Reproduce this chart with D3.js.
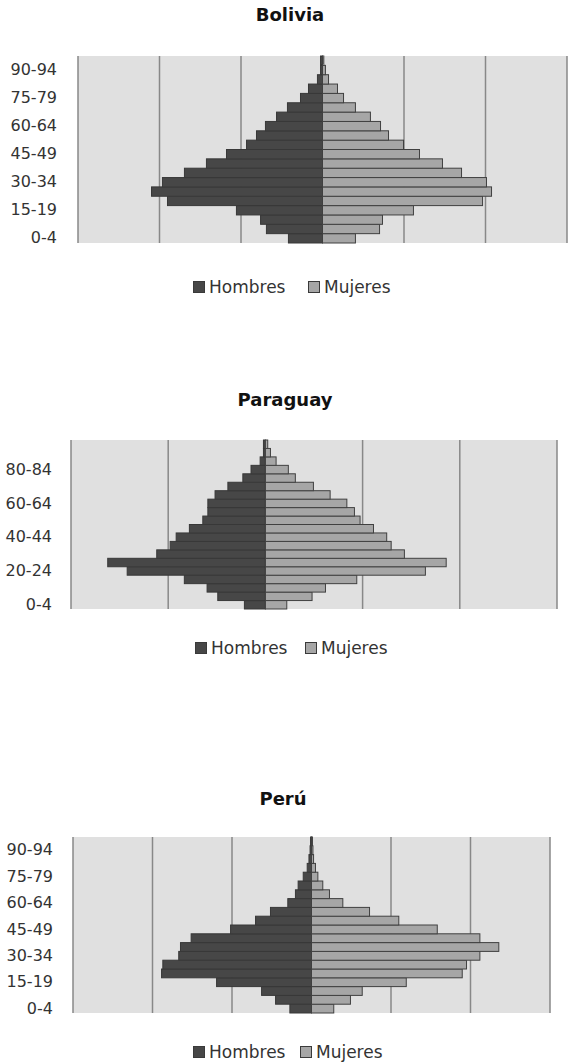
<!DOCTYPE html>
<html>
<head>
<meta charset="utf-8">
<script src="https://cdn.jsdelivr.net/npm/d3@7"></script>
<style>
  body { margin: 0; background: #fff; }
</style>
</head>
<body>
<div id="chart"></div>
<script>
// age groups, bottom to top
const ageGroups = ['0-4', '5-9', '10-14', '15-19', '20-24', '25-29', '30-34', '35-39', '40-44', '45-49',
  '50-54', '55-59', '60-64', '65-69', '70-74', '75-79', '80-84', '85-89', '90-94', '95-99'];

const boliviaTicks = ['0-4', '15-19', '30-34', '45-49', '60-64', '75-79', '90-94'];
const paraguayTicks = ['0-4', '20-24', '40-44', '60-64', '80-84'];
const peruTicks = ['0-4', '15-19', '30-34', '45-49', '60-64', '75-79', '90-94'];

const boliviaHombres = [20.9, 34.4, 38.0, 52.8, 95.1, 104.9, 98.2, 84.7, 71.2, 58.9,
  46.6, 40.5, 35.0, 28.2, 21.5, 13.5, 8.6, 3.1, 1.2, 1.2];
const boliviaMujeres = [20.2, 35.0, 36.8, 55.8, 98.2, 103.7, 100.6, 85.3, 73.6, 59.5,
  49.7, 40.5, 35.6, 29.4, 20.2, 12.9, 9.2, 3.7, 1.8, 0.8];

const paraguayHombres = [10.8, 24.5, 30.0, 41.7, 71.1, 81.1, 55.9, 49.0, 45.9, 39.1,
  32.2, 29.6, 29.6, 25.9, 19.3, 11.6, 7.4, 2.7, 1.0, 1.0];
const paraguayMujeres = [11.0, 24.0, 30.9, 47.0, 82.3, 93.0, 71.5, 64.7, 62.4, 55.6,
  48.7, 45.8, 41.9, 33.3, 24.7, 15.4, 11.8, 5.5, 2.6, 1.2];

const peruHombres = [13.6, 22.6, 31.4, 59.7, 94.3, 93.5, 83.5, 82.4, 75.7, 50.9,
  35.2, 25.8, 14.9, 10.1, 8.4, 5.2, 2.7, 1.6, 0.9, 0.6];
const peruMujeres = [14.0, 24.5, 31.9, 59.6, 94.8, 97.5, 105.9, 117.8, 105.9, 79.1,
  54.9, 36.5, 19.7, 11.3, 7.1, 4.0, 2.5, 1.3, 0.9, 0.6];

const seriesNames = ['Hombres', 'Mujeres'];
const seriesColors = ['#474747', '#a6a6a6'];

const svg = d3.select('#chart')
  .append('svg')
    .attr('width', 572)
    .attr('height', 1064)
    .style('font-family', '"DejaVu Sans", sans-serif');

function drawPyramid(opt) {
  const x = d3.scaleLinear()
      .domain(opt.domain)
      .range([opt.left, opt.right]);

  const y = d3.scaleBand()
      .domain(ageGroups)
      .range([opt.bottom, opt.top])
      .padding(0);

  const g = svg.append('g');

  // title
  g.append('text')
    .attr('x', opt.titleX)
    .attr('y', opt.titleY)
    .attr('text-anchor', 'middle')
    .attr('font-weight', 'bold')
    .attr('font-size', 18)
    .attr('fill', '#111')
    .text(opt.title);

  // plot background
  g.append('rect')
    .attr('x', opt.left)
    .attr('y', opt.top)
    .attr('width', opt.right - opt.left)
    .attr('height', opt.bottom - opt.top)
    .attr('fill', '#e0e0e0');

  // vertical grid lines
  g.append('g')
    .selectAll('line')
    .data(d3.range(opt.domain[0], opt.domain[1] + 1, opt.step))
    .join('line')
      .attr('x1', d => x(d))
      .attr('x2', d => x(d))
      .attr('y1', opt.top)
      .attr('y2', opt.bottom)
      .attr('stroke', '#888')
      .attr('stroke-width', 1.5);

  // hombres to the left
  g.append('g')
    .selectAll('rect')
    .data(opt.hombres)
    .join('rect')
      .attr('x', d => x(-d))
      .attr('y', (d, i) => y(ageGroups[i]))
      .attr('width', d => x(0) - x(-d))
      .attr('height', y.bandwidth())
      .attr('fill', seriesColors[0])
      .attr('stroke', '#383838')
      .attr('stroke-width', 1);

  // mujeres to the right
  g.append('g')
    .selectAll('rect')
    .data(opt.mujeres)
    .join('rect')
      .attr('x', x(0))
      .attr('y', (d, i) => y(ageGroups[i]))
      .attr('width', d => x(d) - x(0))
      .attr('height', y.bandwidth())
      .attr('fill', seriesColors[1])
      .attr('stroke', '#404040')
      .attr('stroke-width', 1);

  // age labels
  g.append('g')
    .attr('transform', `translate(${opt.left}, 0)`)
    .call(d3.axisLeft(y).tickValues(opt.ticks).tickSize(0).tickPadding(opt.left - opt.labelRight))
    .call(a => a.select('.domain').remove())
    .call(a => a.selectAll('text')
      .attr('font-family', '"DejaVu Sans", sans-serif')
      .attr('font-size', 16)
      .attr('fill', '#333'));

  // legend
  const legend = g.append('g')
    .attr('transform', `translate(${opt.legendX}, ${opt.legendY})`);

  const items = legend.selectAll('g')
    .data(seriesNames)
    .join('g')
      .attr('transform', (d, i) => `translate(${i * opt.legendGap}, 0)`);

  items.append('rect')
    .attr('x', 0.5)
    .attr('y', -5.5)
    .attr('width', 11)
    .attr('height', 11)
    .attr('fill', (d, i) => seriesColors[i])
    .attr('stroke', '#3a3a3a');

  items.append('text')
    .attr('x', 16)
    .attr('dy', '0.35em')
    .attr('font-size', 17)
    .attr('fill', '#333')
    .text(d => d);
}

drawPyramid({
  title: 'Bolivia', titleX: 290, titleY: 21,
  left: 78, right: 567, top: 56, bottom: 243, labelRight: 57,
  domain: [-150, 150], step: 50,
  ticks: boliviaTicks, hombres: boliviaHombres, mujeres: boliviaMujeres,
  legendX: 193, legendY: 287, legendGap: 115
});

drawPyramid({
  title: 'Paraguay', titleX: 285, titleY: 406,
  left: 71, right: 557, top: 440, bottom: 609, labelRight: 52,
  domain: [-100, 150], step: 50,
  ticks: paraguayTicks, hombres: paraguayHombres, mujeres: paraguayMujeres,
  legendX: 195, legendY: 648, legendGap: 110
});

drawPyramid({
  title: 'Perú', titleX: 283, titleY: 805,
  left: 73, right: 550, top: 837, bottom: 1013, labelRight: 53,
  domain: [-150, 150], step: 50,
  ticks: peruTicks, hombres: peruHombres, mujeres: peruMujeres,
  legendX: 193, legendY: 1052, legendGap: 107
});
</script>
</body>
</html>
